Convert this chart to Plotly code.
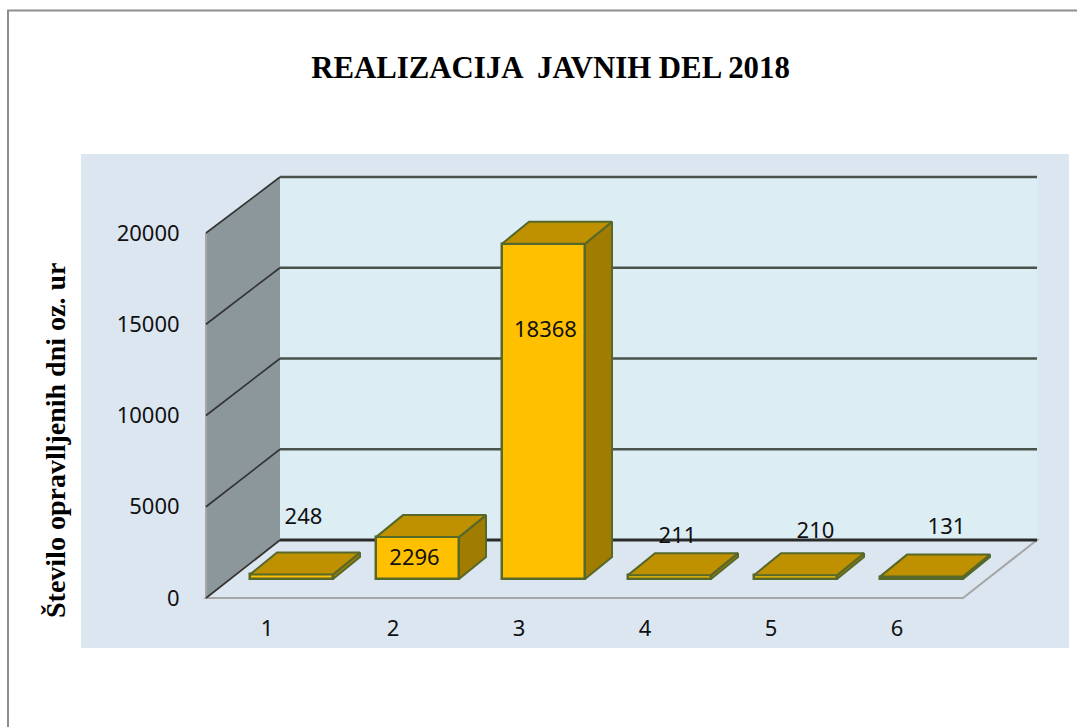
import plotly.graph_objects as go

# ---- data ----
categories = [1, 2, 3, 4, 5, 6]
values = [248, 2296, 18368, 211, 210, 131]
y_ticks = [0, 5000, 10000, 15000, 20000]
chart_title = "REALIZACIJA  JAVNIH DEL 2018"
y_title = "Število opravlljenih dni oz. ur"

# ---- geometry of the plot box, pixels ----
W, H = 1077, 727
L, R, T, B = 202, 1041, 172, 601
FRONT_L, FRONT_R, FRONT_B = 206, 963, 598
CAT1_PX = 267
PX_PER_CAT = 126.0
PX_PER_VAL = 365 / 20000
BACK_SCALE = 363 / 365


def dx(px):
    return px / PX_PER_CAT


def dy(px):
    return px / PX_PER_VAL


x_rng = [1 - dx(CAT1_PX - L), 1 + dx(R - CAT1_PX)]
y_rng = [-dy(B - FRONT_B), dy(FRONT_B - T)]
x_lo, x_hi = 1 - dx(CAT1_PX - FRONT_L), 1 + dx(FRONT_R - CAT1_PX)
y_top = y_ticks[-1]
wall_dx, wall_dy = dx(74), dy(58)
bar_w = dx(83)
bar_shift, bar_base = dx(24.5), dy(19)
bar_dx, bar_dy = dx(27), dy(22)

# label offsets from the bar's top centre, pixels (right, up)
label_off = [(12, 56), (-3, -22), (2, -88), (8, 38), (20, 43), (25, 48)]

C_FRONT, C_TOP, C_SIDE = "#FFC000", "#BF9000", "#A07C00"
C_EDGE = "#56682A"
C_GRID = "#4A524C"
C_WALL = "#8C979B"
C_BACK = "#DCEEF4"
C_PANEL = "#DCE6F1"
C_FLOOR_EDGE = "#A6A6A6"
TXT = "Noto Sans"
SERIF = "Liberation Serif"


def path(pts):
    return "M " + " L ".join(f"{a},{b}" for a, b in pts) + " Z"


def px_paper_x(p):
    return (p - L) / (R - L)


def px_paper_y(p):
    return (B - p) / (B - T)


def back_y(v):
    return wall_dy + v * BACK_SCALE


shapes = [
    dict(type="rect", xref="paper", yref="paper", layer="below",
         x0=px_paper_x(8), x1=px_paper_x(1090), y0=px_paper_y(760), y1=px_paper_y(10.5),
         line=dict(color="#8E8E8E", width=2), fillcolor="white"),
    dict(type="rect", xref="paper", yref="paper", layer="below",
         x0=px_paper_x(81), x1=px_paper_x(1069), y0=px_paper_y(648), y1=px_paper_y(154),
         line=dict(width=0), fillcolor=C_PANEL),
    dict(type="path", xref="x", yref="y", layer="below",
         path=path([(x_lo + wall_dx, back_y(0)), (x_hi + wall_dx, back_y(0)),
                    (x_hi + wall_dx, back_y(y_top)), (x_lo + wall_dx, back_y(y_top))]),
         line=dict(width=0), fillcolor=C_BACK),
    dict(type="path", xref="x", yref="y", layer="below",
         path=path([(x_lo, 0), (x_lo + wall_dx, back_y(0)),
                    (x_lo + wall_dx, back_y(y_top)), (x_lo, y_top)]),
         line=dict(width=0), fillcolor=C_WALL),
    dict(type="path", xref="x", yref="y", layer="below",
         path=path([(x_lo, 0), (x_hi, 0), (x_hi + wall_dx, back_y(0)), (x_lo + wall_dx, back_y(0))]),
         line=dict(color=C_FLOOR_EDGE, width=2), fillcolor=C_PANEL),
    dict(type="line", xref="x", yref="y", layer="below",
         x0=x_lo, x1=x_lo, y0=0, y1=y_top, line=dict(color=C_FLOOR_EDGE, width=2)),
]
for t in y_ticks:
    shapes.append(dict(type="line", xref="x", yref="y", layer="below",
                       x0=x_lo + wall_dx, x1=x_hi + wall_dx, y0=back_y(t), y1=back_y(t),
                       line=dict(color="#2A2A2A" if t == 0 else C_GRID, width=3 if t == 0 else 2.5)))
    shapes.append(dict(type="line", xref="x", yref="y", layer="below",
                       x0=x_lo, x1=x_lo + wall_dx, y0=t, y1=back_y(t),
                       line=dict(color="#333333", width=1.6)))

fig = go.Figure()

bar_x = [c + bar_shift for c in categories]
fig.add_trace(go.Bar(
    x=bar_x, y=values, base=bar_base, width=bar_w,
    marker=dict(color=C_FRONT, line=dict(color=C_EDGE, width=2.5)),
    hoverinfo="skip", showlegend=False,
))

for x, v in zip(bar_x, values):
    xl, xr = x - bar_w / 2, x + bar_w / 2
    yb, yt = bar_base, bar_base + v
    fig.add_trace(go.Scatter(
        x=[xr, xr + bar_dx, xr + bar_dx, xr, xr],
        y=[yb, yb + bar_dy, yt + bar_dy, yt, yb],
        mode="lines", fill="toself", fillcolor=C_SIDE,
        line=dict(color=C_EDGE, width=2), hoverinfo="skip", showlegend=False))
    fig.add_trace(go.Scatter(
        x=[xl, xr, xr + bar_dx, xl + bar_dx, xl],
        y=[yt, yt, yt + bar_dy, yt + bar_dy, yt],
        mode="lines", fill="toself", fillcolor=C_TOP,
        line=dict(color=C_EDGE, width=2), hoverinfo="skip", showlegend=False))

fig.add_trace(go.Scatter(
    x=[x + dx(o[0]) for x, o in zip(bar_x, label_off)],
    y=[bar_base + v + dy(o[1]) for v, o in zip(values, label_off)],
    text=[str(v) for v in values],
    mode="text", textposition="middle center", cliponaxis=False,
    textfont=dict(family=TXT, size=22, color="#111111"),
    hoverinfo="skip", showlegend=False))

fig.update_layout(
    width=W, height=H, autosize=False,
    margin=dict(l=L, r=W - R, t=T, b=H - B, pad=0),
    paper_bgcolor="white", plot_bgcolor="rgba(0,0,0,0)",
    showlegend=False, shapes=shapes, bargap=0,
    title=dict(text=f"<b>{chart_title}</b>", x=px_paper_x(550.5), xref="paper", xanchor="center",
               y=1 - 67 / H, yref="container", yanchor="middle",
               font=dict(family=SERIF, size=30.8, color="black")),
    annotations=[dict(text=f"<b>{y_title}</b>", textangle=-90, showarrow=False,
                      xref="paper", yref="paper", x=px_paper_x(55), y=px_paper_y(441),
                      xanchor="center", yanchor="middle",
                      font=dict(family=SERIF, size=28, color="black"))],
    xaxis=dict(range=x_rng, tickmode="array", tickvals=categories, ticktext=[str(c) for c in categories],
               ticks="outside", ticklen=8, tickcolor="rgba(0,0,0,0)", showline=False,
               showgrid=False, zeroline=False, tickfont=dict(family=TXT, size=22, color="#111111")),
    yaxis=dict(range=y_rng, tickmode="array", tickvals=y_ticks, ticks="outside", ticklen=17,
               tickcolor="rgba(0,0,0,0)", showline=False, showgrid=False, zeroline=False,
               tickformat="d", tickfont=dict(family=TXT, size=22, color="#111111")),
)

fig.write_html("out.html", config=dict(displayModeBar=False),
               post_script="document.body.style.margin='0';")
